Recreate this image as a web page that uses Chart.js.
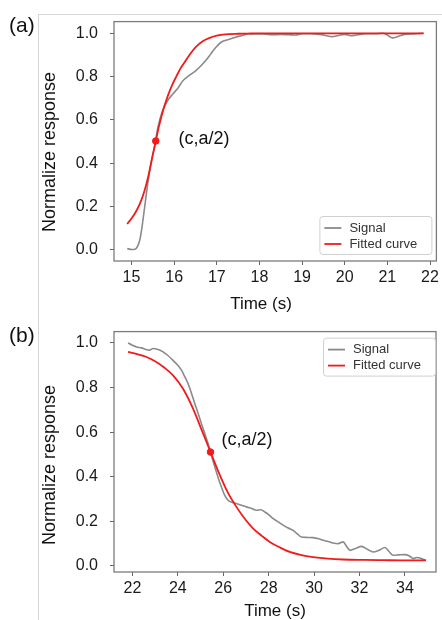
<!DOCTYPE html>
<html><head><meta charset="utf-8">
<script src="https://cdn.jsdelivr.net/npm/chart.js@4.4.1/dist/chart.umd.min.js"></script>
<style>
html,body{margin:0;padding:0;background:#fff;}
#wrap{position:relative;width:442px;height:620px;overflow:hidden;font-family:"Liberation Sans",Arial,sans-serif;}
.frameV{position:absolute;left:38px;top:14px;width:1px;height:606px;background:#d6d6d6;}
.frameH{position:absolute;left:38px;top:14px;width:404px;height:1px;background:#d6d6d6;}
.panel{position:absolute;left:9px;font-size:21px;line-height:24px;color:#111;}
#ca{position:absolute;left:0;top:0;}
#cb{position:absolute;left:0;top:310px;}
</style></head><body>
<div id="wrap">
 <div class="frameV"></div><div class="frameH"></div>
 <canvas id="ca" width="442" height="320"></canvas>
 <canvas id="cb" width="442" height="310"></canvas>
 <div class="panel" style="top:13px">(a)</div>
 <div class="panel" style="top:323px">(b)</div>
</div>
<script>
// ---------- data (a) ----------
const sigA_t = [14.9,15.0,15.08,15.15,15.2,15.25,15.31,15.37,15.43,15.49,15.54,15.62,15.73,15.85,15.97,16.1,16.2,16.35,16.51,16.63,16.74,16.86,16.98,17.13,17.3,17.44,17.6,17.75,17.9,18.1,18.3,18.5,18.7,18.85,19.0,19.2,19.4,19.55,19.7,19.85,20.0,20.15,20.3,20.5,20.7,20.9,21.0,21.12,21.25,21.4,21.6,21.85];
const sigA_v = [0.007,0.002,0.003,0.02,0.05,0.11,0.20,0.29,0.37,0.43,0.475,0.567,0.644,0.69,0.72,0.75,0.78,0.805,0.828,0.85,0.874,0.905,0.936,0.962,0.972,0.982,0.99,0.998,0.997,0.997,0.993,0.995,0.993,0.992,0.998,0.998,0.995,0.99,0.984,0.99,0.995,0.989,0.993,0.998,0.998,1.0,0.992,0.979,0.985,0.995,0.997,1.0];
const fitA_t = [14.9,15.0,15.1,15.2,15.3,15.4,15.5,15.57,15.65,15.75,15.85,15.95,16.05,16.15,16.25,16.36,16.5,16.67,16.85,17.0,17.2,17.5,17.8,18.2,19.0,20.0,21.0,21.85];
const fitA_v = [0.12,0.145,0.175,0.215,0.27,0.345,0.44,0.503,0.575,0.65,0.71,0.76,0.80,0.838,0.868,0.90,0.935,0.963,0.98,0.989,0.995,0.998,0.999,1.0,1.0,1.0,1.0,1.0];
const midA = [15.57, 0.503];
const xTicksA = [15,16,17,18,19,20,21,22];
// ---------- data (b) ----------
const sigB_t = [21.81,22.0,22.18,22.4,22.62,22.75,22.91,23.1,23.35,23.55,23.79,24.0,24.16,24.3,24.45,24.6,24.75,24.9,25.04,25.2,25.33,25.48,25.63,25.78,25.92,26.05,26.21,26.4,26.58,26.8,27.02,27.25,27.46,27.65,27.83,28.0,28.2,28.42,28.64,28.86,29.08,29.25,29.45,29.7,29.96,30.2,30.4,30.62,30.84,31.05,31.28,31.45,31.58,31.85,32.09,32.35,32.6,32.85,33.12,33.3,33.48,33.75,34.0,34.2,34.37,34.52,34.66,34.8,34.93];
const sigB_v = [1.0,0.99,0.982,0.978,0.97,0.968,0.975,0.972,0.96,0.945,0.922,0.9,0.878,0.85,0.818,0.775,0.728,0.683,0.638,0.59,0.549,0.495,0.444,0.395,0.354,0.32,0.295,0.285,0.28,0.272,0.265,0.258,0.25,0.252,0.242,0.23,0.212,0.198,0.183,0.17,0.16,0.145,0.13,0.128,0.127,0.122,0.115,0.11,0.103,0.1,0.108,0.085,0.07,0.08,0.088,0.075,0.063,0.07,0.083,0.065,0.048,0.05,0.051,0.045,0.033,0.038,0.036,0.03,0.026];
const fitB_t = [21.81,22.2,22.62,23.0,23.4,23.79,24.23,24.67,25.05,25.44,25.8,26.2,26.58,27.0,27.32,27.7,28.05,28.5,28.93,29.4,29.96,30.6,31.28,32.2,33.0,34.0,34.93];
const fitB_v = [0.96,0.95,0.937,0.918,0.89,0.855,0.795,0.706,0.61,0.511,0.42,0.33,0.265,0.205,0.168,0.135,0.108,0.083,0.063,0.05,0.04,0.033,0.029,0.027,0.026,0.025,0.025];
const midB = [25.44, 0.511];
const xTicksB = [22,24,26,28,30,32,34];
const yTicks = [0.0,0.2,0.4,0.6,0.8,1.0];
const seriesNames = ['Signal','Fitted curve'];
const annoText = '(c,a/2)';
const xTitle = 'Time (s)';
const yTitle = 'Normalize response';

const FONT = '"Liberation Sans", Arial, sans-serif';
const RED = '#f21a1a', GRAY = '#8a8a8a';
const zip = (t,v) => t.map((x,i)=>({x:x,y:v[i]}));

function makeChart(canvas, o){
  const H = canvas.height;
  const deco = {
    id:'deco',
    afterDraw(chart){
      const ctx = chart.ctx, a = chart.chartArea;
      const xs = chart.scales.x, ys = chart.scales.y;
      ctx.save();
      // frame box
      ctx.strokeStyle = '#7c7c7c'; ctx.lineWidth = 1.3;
      ctx.strokeRect(a.left, a.top, a.right-a.left, a.bottom-a.top);
      // annotation
      ctx.fillStyle = '#111'; ctx.font = '18px '+FONT;
      ctx.textAlign = 'left'; ctx.textBaseline = 'middle';
      ctx.fillText(annoText, xs.getPixelForValue(o.anno[0]), ys.getPixelForValue(o.anno[1]));
      // axis titles
      ctx.font = '17px '+FONT; ctx.textAlign='center';
      ctx.fillText(xTitle, o.xTitlePos[0], o.xTitlePos[1]);
      ctx.save();
      ctx.translate(50, o.yTitleY); ctx.rotate(-Math.PI/2);
      ctx.font = '18px '+FONT;
      ctx.fillText(yTitle, 0, 0);
      ctx.restore();
      // legend
      const lw = 112, lh = 38;
      const lx = a.right - o.legRight - lw;
      const ly = o.legPos === 'bottom' ? a.bottom - o.legOff - lh : a.top + o.legOff;
      ctx.fillStyle = 'rgba(255,255,255,0.85)'; ctx.strokeStyle = '#d0d0d0'; ctx.lineWidth = 1;
      ctx.beginPath();
      if (ctx.roundRect) ctx.roundRect(lx+0.5, ly+0.5, lw, lh, 3); else ctx.rect(lx+0.5, ly+0.5, lw, lh);
      ctx.fill(); ctx.stroke();
      const cols = [GRAY, RED];
      ctx.font = '13px '+FONT; ctx.textAlign='left'; ctx.textBaseline='middle';
      seriesNames.forEach((n,i)=>{
        const yy = ly + 12 + i*16;
        ctx.strokeStyle = cols[i]; ctx.lineWidth = 1.8;
        ctx.beginPath(); ctx.moveTo(lx+5, yy); ctx.lineTo(lx+22, yy); ctx.stroke();
        ctx.fillStyle = '#333';
        ctx.fillText(n, lx+30, yy);
      });
      ctx.restore();
    }
  };
  return new Chart(canvas, {
    type:'line',
    data:{datasets:[
      {label:'mid', data:[{x:o.mid[0],y:o.mid[1]}], showLine:false, pointRadius:3.3, pointBackgroundColor:RED, pointBorderColor:RED, borderColor:RED},
      {label:seriesNames[1], data:zip(o.fitT,o.fitV), borderColor:RED, borderWidth:1.8, pointRadius:0, cubicInterpolationMode:'monotone', fill:false},
      {label:seriesNames[0], data:zip(o.sigT,o.sigV), borderColor:GRAY, borderWidth:1.6, pointRadius:0, cubicInterpolationMode:'monotone', fill:false}
    ]},
    options:{
      responsive:false, animation:false, devicePixelRatio:1,
      layout:{padding:{left:0, top:o.top, right:o.right, bottom:0}},
      plugins:{legend:{display:false}, tooltip:{enabled:false}},
      scales:{
        x:{type:'linear', min:o.xmin, max:o.xmax,
           afterBuildTicks:s=>{s.ticks = o.xticks.map(v=>({value:v}));},
           afterFit:s=>{s.height = H - o.bottom;},
           grid:{drawOnChartArea:false, tickLength:4, color:'#666'},
           border:{display:false},
           ticks:{font:{size:16,family:FONT}, color:'#1a1a1a', padding:3, maxRotation:0, autoSkip:false, callback:v=>String(v)}},
        y:{type:'linear', min:o.ymin, max:o.ymax,
           afterBuildTicks:s=>{s.ticks = yTicks.map(v=>({value:v}));},
           afterFit:s=>{s.width = 114;},
           grid:{drawOnChartArea:false, tickLength:4, color:'#666'},
           border:{display:false},
           ticks:{font:{size:16,family:FONT}, color:'#1a1a1a', padding:12, autoSkip:false, callback:v=>Number(v).toFixed(1)}}
      }
    },
    plugins:[deco]
  });
}

makeChart(document.getElementById('ca'), {
  sigT:sigA_t, sigV:sigA_v, fitT:fitA_t, fitV:fitA_v, mid:midA, xticks:xTicksA,
  xmin:14.59, xmax:22.15, ymin:-0.051, ymax:1.054,
  top:21, right:3, bottom:261,
  anno:[16.1, 0.51], xTitlePos:[261, 304], yTitleY:152,
  legRight:5, legOff:7, legPos:'bottom'
});
makeChart(document.getElementById('cb'), {
  sigT:sigB_t, sigV:sigB_v, fitT:fitB_t, fitV:fitB_v, mid:midB, xticks:xTicksB,
  xmin:21.19, xmax:35.37, ymin:-0.027, ymax:1.051,
  top:21, right:6, bottom:262,
  anno:[25.92, 0.564], xTitlePos:[275, 301], yTitleY:155,
  legRight:1, legOff:6, legPos:'top'
});
</script>
</body></html>
